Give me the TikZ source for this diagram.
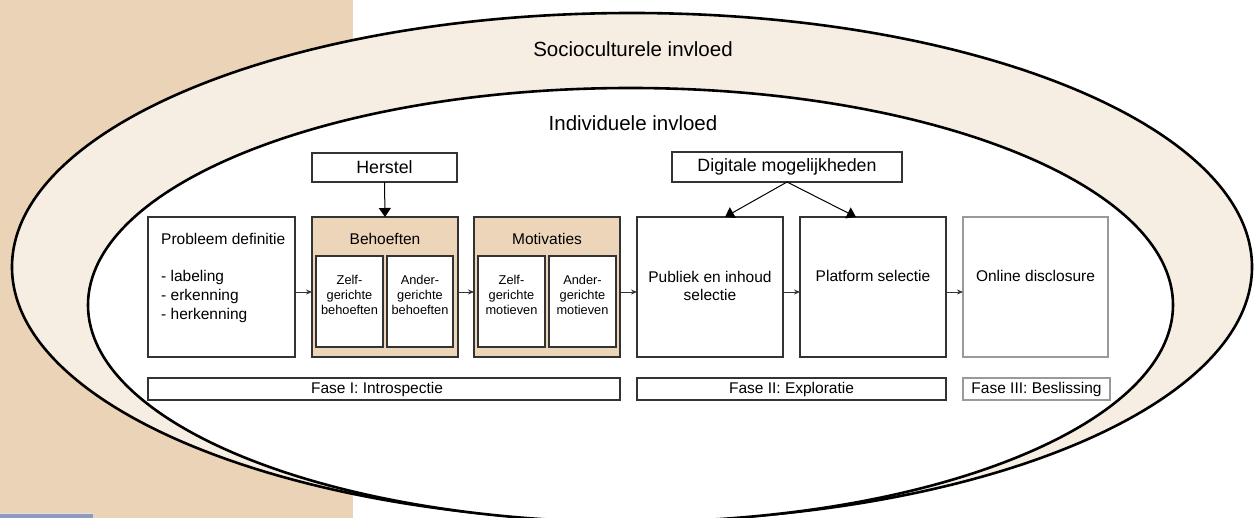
\documentclass[tikz,border=0pt]{standalone}
\usepackage{fontspec}
\setmainfont{Liberation Sans}
\usetikzlibrary{arrows.meta}
\definecolor{tanbg}{HTML}{EBD3B7}
\definecolor{tanbox}{HTML}{EDD5B9}
\definecolor{cream}{HTML}{F6EEE3}
\definecolor{bluebar}{HTML}{8F99BB}
\definecolor{boxline}{HTML}{333333}
\definecolor{greyline}{HTML}{9A9A9A}
\begin{document}
\begin{tikzpicture}[x=1pt,y=-1pt,
  box/.style={draw=boxline,line width=1.2pt,fill=white,inner sep=0pt,outer sep=0pt},
  greybox/.style={draw=greyline,line width=1.2pt,fill=white,inner sep=0pt,outer sep=0pt},
  tanfill/.style={draw=boxline,line width=1.2pt,fill=tanbox,inner sep=0pt,outer sep=0pt},
  big/.style={font=\fontsize{20.5}{24}\selectfont},
  mid/.style={font=\fontsize{17.8}{21}\selectfont},
  txt/.style={font=\fontsize{15.5}{18.7}\selectfont},
  small/.style={font=\fontsize{12.8}{15}\selectfont,align=center},
  flow/.style={-{Stealth[length=6pt,width=5pt]},line width=0.8pt,draw=boxline},
  bigarr/.style={-{Triangle[length=9pt,width=12pt]},line width=1pt}]
\useasboundingbox (0,0) rectangle (1257,518);
% backgrounds
\fill[tanbg] (0,0) rectangle (353,518);
\fill[bluebar] (0,514) rectangle (93,518);
\fill[white!70!bluebar] (0,513) rectangle (93,514);
% ellipses
\draw[fill=cream,line width=2.6pt] (632,267) ellipse [x radius=620, y radius=254];
\draw[fill=white,line width=2.6pt] (630.5,305) ellipse [x radius=542.5, y radius=217];
\node[big] (socio) at (633,49) {Socioculturele invloed};
\node[big] (indiv) at (633,123) {Individuele invloed};
% top boxes
\node[box,minimum width=145,minimum height=29,mid] (herstel) at (384.5,167.5) {Herstel};
\node[box,minimum width=230,minimum height=30,mid] (digi) at (787,167) {Digitale mogelijkheden};
% main boxes
\node[box,minimum width=147,minimum height=140] (prob) at (221.5,287) {};
\node[tanfill,minimum width=146,minimum height=140] (beh) at (385,287) {};
\node[box,minimum width=67,minimum height=91] (behz) at (349.5,301.5) {};
\node[box,minimum width=66,minimum height=91] (beha) at (420,301.5) {};
\node[tanfill,minimum width=146,minimum height=140] (mot) at (547,287) {};
\node[box,minimum width=67,minimum height=91] (motz) at (511.5,301.5) {};
\node[box,minimum width=67,minimum height=91] (mota) at (582.5,301.5) {};
\node[box,minimum width=146,minimum height=140] (pub) at (710,287) {};
\node[box,minimum width=146,minimum height=140] (plat) at (873,287) {};
\node[greybox,minimum width=145,minimum height=140] (online) at (1035.5,287) {};
% box texts
\node[txt,anchor=west,inner sep=0pt] (probt) at (161,239) {Probleem definitie};
\node[txt,anchor=north west,align=left,inner sep=0pt] (probl) at (161,270.5) {- labeling\\- erkenning\\- herkenning};
\node[txt] (beht) at (385,239) {Behoeften};
\node[small] (behzt) at (349.5,294.5) {Zelf-\\gerichte\\behoeften};
\node[small] (behat) at (420,294.5) {Ander-\\gerichte\\behoeften};
\node[txt] (mott) at (547,239) {Motivaties};
\node[small] (motzt) at (511.5,294.5) {Zelf-\\gerichte\\motieven};
\node[small] (motat) at (582.5,294.5) {Ander-\\gerichte\\motieven};
\node[txt,align=center] (pubt) at (710,286) {Publiek en inhoud\\selectie};
\node[txt] (platt) at (873,276) {Platform selectie};
\node[txt] (onlinet) at (1035.5,276) {Online disclosure};
% phase boxes
\node[box,minimum width=472,minimum height=22] (f1) at (384,389) {};
\node[txt] (f1t) at (377,389) {Fase I: Introspectie};
\node[box,minimum width=309,minimum height=22,txt] (f2) at (791.5,389) {Fase II: Exploratie};
\node[greybox,minimum width=147,minimum height=22,txt] (f3) at (1036.5,389) {Fase III: Beslissing};
% arrows
\draw[bigarr] (herstel.south) -- (beh.north);
\draw[bigarr] (digi.south) -- ([xshift=15pt]pub.north);
\draw[bigarr] (digi.south) -- ([xshift=-17pt]plat.north);
\draw[flow] ([yshift=-5pt]prob.east) -- ([yshift=-5pt]beh.west);
\draw[flow] ([yshift=-5pt]beh.east) -- ([yshift=-5pt]mot.west);
\draw[flow] ([yshift=-5pt]mot.east) -- ([yshift=-5pt]pub.west);
\draw[flow] ([yshift=-5pt]pub.east) -- ([yshift=-5pt]plat.west);
\draw[flow] ([yshift=-5pt]plat.east) -- ([yshift=-5pt]online.west);
\end{tikzpicture}
\end{document}
